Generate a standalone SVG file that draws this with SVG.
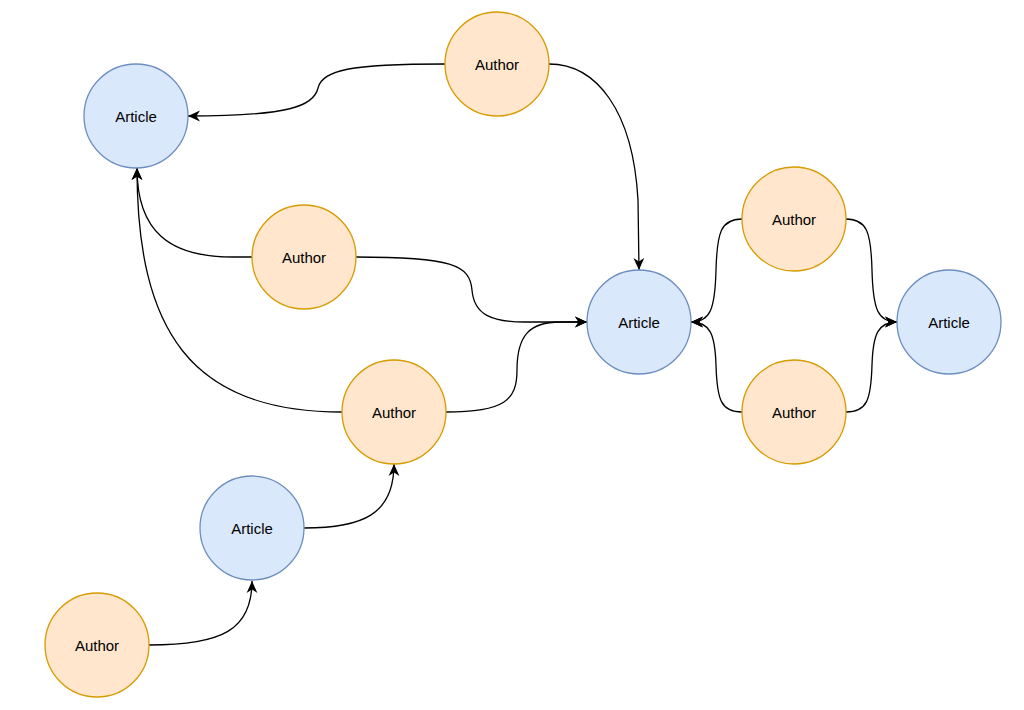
<svg xmlns="http://www.w3.org/2000/svg" width="1024" height="710" viewBox="0 0 1024 710">
<style>
.article{fill:#dae8fc;stroke:#6c8ebf;stroke-width:1.3}
.author{fill:#ffe6cc;stroke:#d79b00;stroke-width:1.3}
.lbl{font-family:"Liberation Sans",Arial,sans-serif;font-size:15px;fill:#000;text-anchor:middle;dominant-baseline:central}
.edge{fill:none;stroke:#000;stroke-width:1.3;marker-end:url(#arr)}
</style>
<defs>
<marker id="arr" markerUnits="userSpaceOnUse" markerWidth="12" markerHeight="12" viewBox="0 0 10 10" refX="10" refY="5" orient="auto">
<path d="M0,0.5 L10,5 L0,9.5 L3,5 Z" fill="#000"/>
</marker>
</defs>
<rect width="1024" height="710" fill="#fff"/>
<g id="connectors">
<path class="edge" d="M445,64 C 350,64 322,70 318,88 C 314,106 290,116 188,116"/>
<path class="edge" d="M549,64 C 596,64 633,110 638,200 L639,270"/>
<path class="edge" d="M252,257 L232,257 C 170,257 137,232 137,168"/>
<path class="edge" d="M342,412 C 190,412 137,330 137,168"/>
<path class="edge" d="M356,257 C 452,257 470,265 472,290 C 474,315 492,322 525,322 L587,322"/>
<path class="edge" d="M446,412 C 505,412 517,400 517,370 C 517,335 530,322 560,322 L587,322"/>
<path class="edge" d="M742,219 C 721,219 717,232 716,270 C 715,310 710,322 691,322"/>
<path class="edge" d="M742,412 C 721,412 717,400 716,365 C 715,334 710,322 691,322"/>
<path class="edge" d="M846,219 C 867,219 871,232 872,270 C 873,310 878,322 897,322"/>
<path class="edge" d="M846,412 C 867,412 871,400 872,365 C 873,334 878,322 897,322"/>
<path class="edge" d="M304,528 C 362,528 394,515 394,464"/>
<path class="edge" d="M149,645 C 222,645 252,630 252,581"/>
</g>
<g id="article1"><circle class="article" cx="136" cy="116" r="52"/><text class="lbl" x="136" y="116">Article</text></g>
<g id="author1"><circle class="author" cx="497" cy="64" r="52"/><text class="lbl" x="497" y="64">Author</text></g>
<g id="author2"><circle class="author" cx="304" cy="257" r="52"/><text class="lbl" x="304" y="257">Author</text></g>
<g id="article2"><circle class="article" cx="639" cy="322" r="52"/><text class="lbl" x="639" y="322">Article</text></g>
<g id="author3"><circle class="author" cx="794" cy="219" r="52"/><text class="lbl" x="794" y="219">Author</text></g>
<g id="article3"><circle class="article" cx="949" cy="322" r="52"/><text class="lbl" x="949" y="322">Article</text></g>
<g id="author4"><circle class="author" cx="794" cy="412" r="52"/><text class="lbl" x="794" y="412">Author</text></g>
<g id="author5"><circle class="author" cx="394" cy="412" r="52"/><text class="lbl" x="394" y="412">Author</text></g>
<g id="article4"><circle class="article" cx="252" cy="528" r="52"/><text class="lbl" x="252" y="528">Article</text></g>
<g id="author6"><circle class="author" cx="97" cy="645" r="52"/><text class="lbl" x="97" y="645">Author</text></g>
</svg>
